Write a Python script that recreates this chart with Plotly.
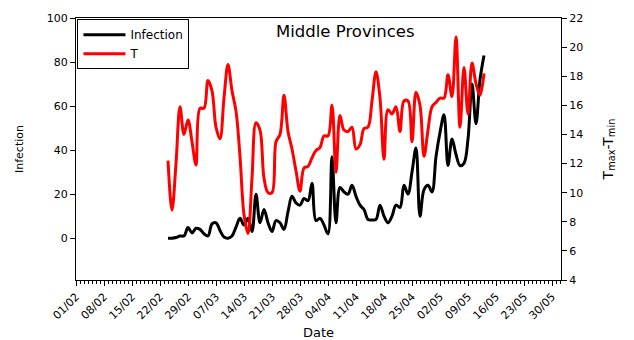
import pandas as pd
import plotly.graph_objects as go

# Daily series, Middle Provinces, starting 24 Feb 2020
start_date = "2020-02-24"

infection = [0, 0, 0.3, 1, 1, 4.8, 2.4, 4.5, 4, 2,
             1, 6.5, 7, 3.5, 0.5, 0, 1, 5, 9, 6,
             9, 3, 20, 7, 13, 7, 3, 8, 7, 4,
             12, 19, 16, 15, 18, 17, 25, 8, 9, 6,
             2, 37, 7, 23, 21, 20, 24, 19, 15, 13,
             8.5, 8.3, 8.5, 15, 10, 7, 10, 15, 14, 24,
             20, 30, 41, 10, 22, 24, 21, 37, 48, 56,
             33, 45, 38, 33, 34, 45, 70, 52, 72, 83]

t_range = [12.2, 8.8, 12.0, 15.9, 14.0, 15.0, 13.5, 11.9, 15.8, 15.8,
           17.7, 17.0, 14.5, 13.7, 16.5, 18.8, 17.0, 15.6, 12.5, 8.5,
           7.2, 11.0, 14.8, 14.3, 11.0, 10.0, 10.0, 13.5, 14.0, 16.7,
           14.2, 13.0, 11.5, 10.1, 11.7, 11.8, 12.4, 12.9, 13.1, 13.9,
           13.9, 16.0, 11.4, 15.3, 14.3, 14.2, 14.5, 13.0, 13.3, 14.4,
           14.5, 16.3, 18.3, 16.5, 12.3, 15.7, 15.4, 15.9, 14.2, 16.3,
           16.3, 13.5, 16.9, 16.0, 12.5, 14.3, 15.9, 16.2, 16.5, 16.5,
           18.1, 16.6, 20.7, 14.5, 18.6, 15.4, 18.9, 17.5, 16.7, 18.2]

dates = pd.date_range(start_date, periods=len(infection), freq="D")

DAY_MS = 86400000
FONT = "DejaVu Sans"

fig = go.Figure()
fig.add_trace(go.Scatter(
    x=dates, y=infection, name="Infection", mode="lines",
    line=dict(color="black", width=3, shape="spline", smoothing=1),
))
fig.add_trace(go.Scatter(
    x=dates, y=t_range, name="T", mode="lines", yaxis="y2",
    line=dict(color="red", width=3, shape="spline", smoothing=1),
))

fig.update_layout(
    width=634, height=340,
    margin=dict(l=76, r=73, t=18, b=60),
    paper_bgcolor="white", plot_bgcolor="white",
    font=dict(family=FONT, color="black", size=11),
    showlegend=True,
    legend=dict(
        x=0.003, y=0.995, xanchor="left", yanchor="top",
        bordercolor="black", borderwidth=1, bgcolor="white",
        font=dict(family=FONT, size=12, color="black"),
        tracegroupgap=0, itemwidth=42,
    ),
    xaxis=dict(
        type="date",
        range=["2020-02-01", "2020-06-01 06:00"],
        tick0="2020-02-01", dtick=7 * DAY_MS,
        tickformat="%d/%m", tickangle=-45,
        ticks="outside", ticklen=5, tickcolor="black",
        tickfont=dict(size=11),
        showline=True, linecolor="black", linewidth=1, mirror=True,
        showgrid=False, zeroline=False,
        minor=dict(tick0="2020-02-01", dtick=DAY_MS, ticks="outside",
                   ticklen=3, tickcolor="black", showgrid=False),
        title=dict(text="Date", font=dict(size=13), standoff=6),
        automargin=False,
    ),
    yaxis=dict(
        range=[-19, 100], tick0=0, dtick=20,
        ticks="outside", ticklen=5, tickcolor="black",
        showline=True, linecolor="black", linewidth=1,
        showgrid=False, zeroline=False,
        title=dict(text="Infection", font=dict(size=11), standoff=20),
        automargin=False,
    ),
    yaxis2=dict(
        overlaying="y", side="right",
        range=[4, 22], tick0=4, dtick=2,
        ticks="outside", ticklen=5, tickcolor="black",
        showline=True, linecolor="black", linewidth=1,
        showgrid=False, zeroline=False,
        title=dict(text="T<sub>max</sub>-T<sub>min</sub>", font=dict(size=14), standoff=20),
        automargin=False,
    ),
    annotations=[dict(
        text="Middle Provinces", x=0.555, y=0.947, xref="paper", yref="paper",
        xanchor="center", yanchor="middle", showarrow=False,
        font=dict(family=FONT, size=16.5, color="black"),
    )],
)

fig.write_html("out.html")
